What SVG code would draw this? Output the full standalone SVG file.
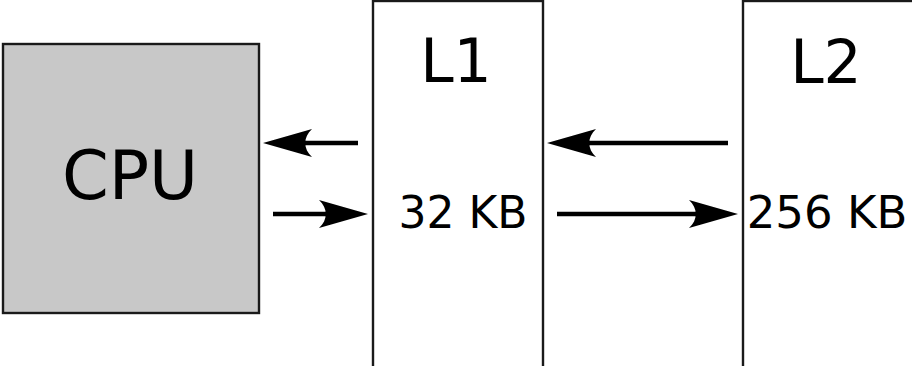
<svg xmlns="http://www.w3.org/2000/svg" width="912" height="366" viewBox="0 0 912 366">
  <style>
    .box { stroke: #1a1a1a; stroke-width: 2.4; }
    .label { font-family: "DejaVu Sans", "Liberation Sans", sans-serif; fill: #000; text-anchor: middle; }
    .wire { stroke: #000; stroke-width: 4.5; fill: none; }
    .head { fill: #000; }
  </style>
  <defs>
    <!-- arrowhead pointing left, tip at origin -->
    <path id="head" class="head" d="M0,0 L49,-14 C40,-6 40,6 49,14 Z"/>
  </defs>

  <rect width="912" height="366" fill="#fff"/>

  <g id="cpu">
    <rect class="box" x="3" y="44" width="256" height="269" fill="#c8c8c8"/>
    <text class="label" x="130" y="199" font-size="67">CPU</text>
  </g>

  <g id="l1">
    <rect class="box" x="373" y="1" width="170" height="390" fill="#fff"/>
    <text class="label" x="456" y="82" font-size="60">L1</text>
    <text class="label" x="463" y="228" font-size="44">32 KB</text>
  </g>

  <g id="l2">
    <rect class="box" x="743" y="1" width="200" height="390" fill="#fff"/>
    <text class="label" x="826" y="83" font-size="60">L2</text>
    <text class="label" x="827" y="228" font-size="45">256 KB</text>
  </g>

  <g id="connectors">
    <!-- L1 to CPU -->
    <line class="wire" x1="358" y1="143" x2="300" y2="143"/>
    <use href="#head" transform="translate(263,143)"/>
    <!-- CPU to L1 -->
    <line class="wire" x1="273" y1="214" x2="330" y2="214"/>
    <use href="#head" transform="translate(368,214) rotate(180)"/>
    <!-- L2 to L1 -->
    <line class="wire" x1="728" y1="143" x2="585" y2="143"/>
    <use href="#head" transform="translate(547,143)"/>
    <!-- L1 to L2 -->
    <line class="wire" x1="557" y1="214" x2="700" y2="214"/>
    <use href="#head" transform="translate(738,214) rotate(180)"/>
  </g>
</svg>
